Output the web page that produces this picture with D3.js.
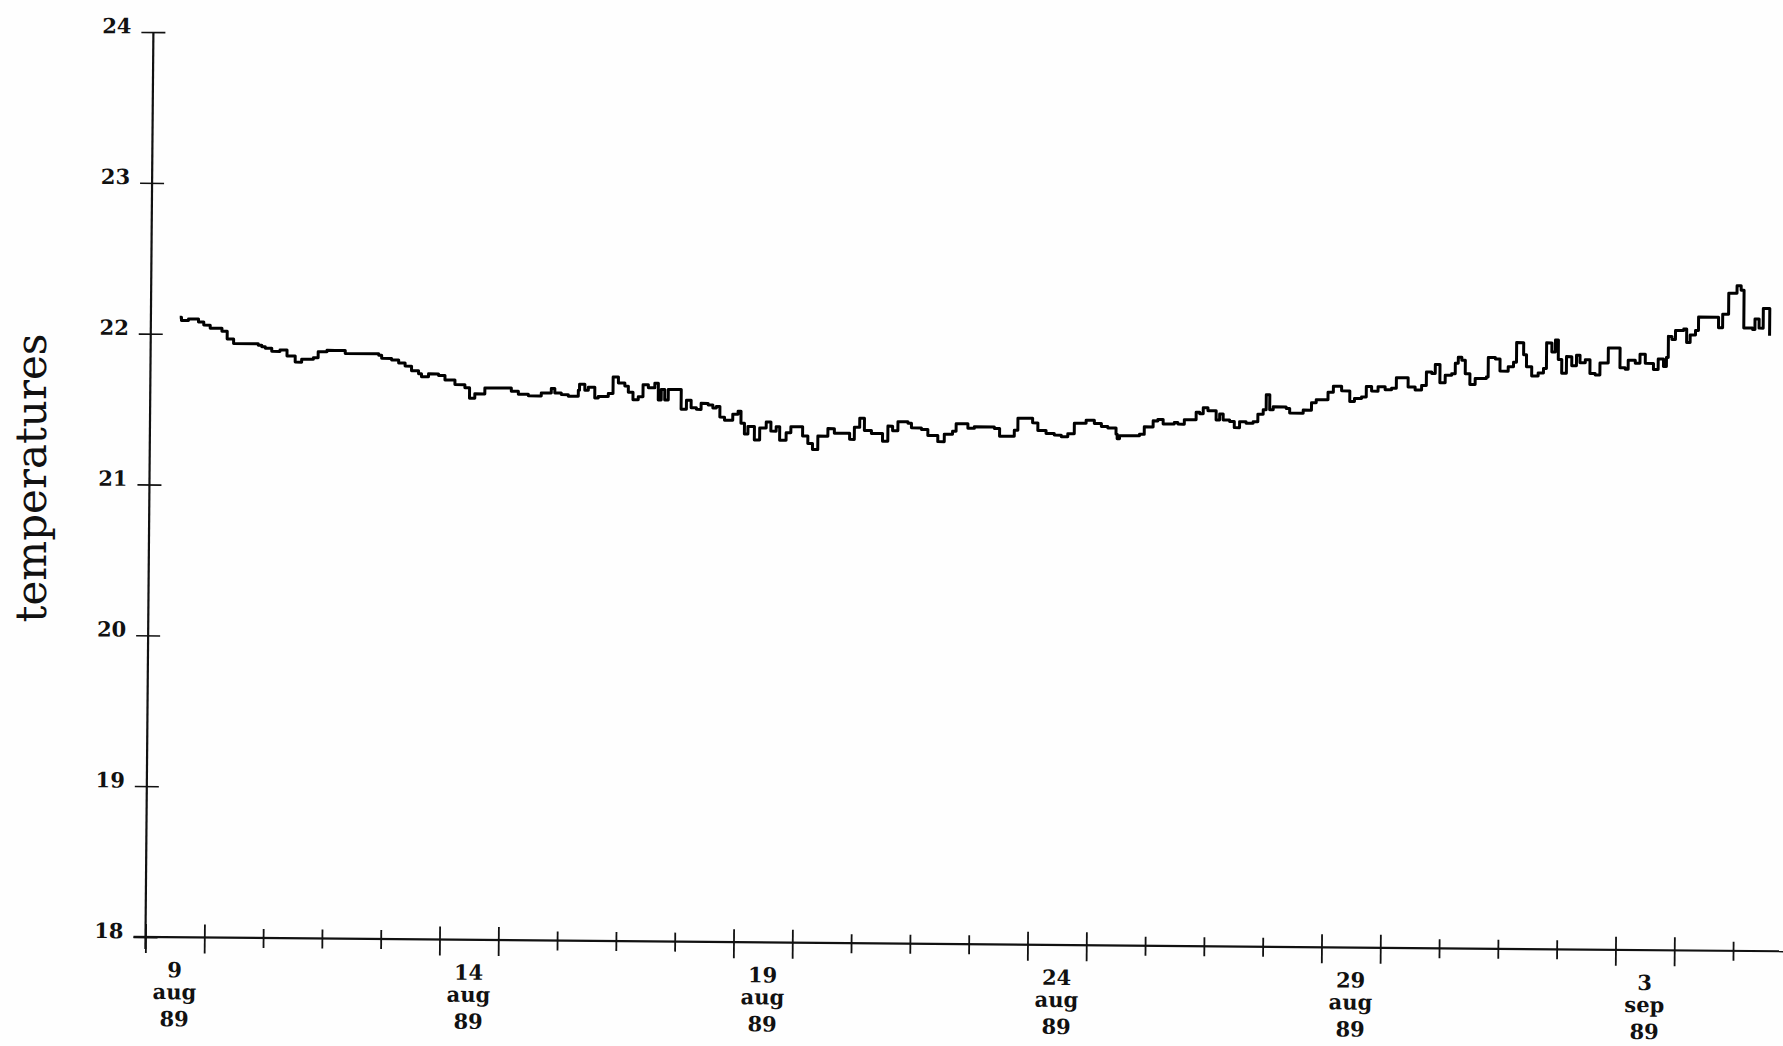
<!DOCTYPE html>
<html>
<head>
<meta charset="utf-8">
<script src="https://cdn.jsdelivr.net/npm/d3@7"></script>
<style>
  html, body { margin: 0; padding: 0; background: #fefefe; }
  svg { display: block; }
  text { font-family: "DejaVu Serif", "Liberation Serif", serif; fill: #111; }
</style>
</head>
<body>
<svg id="chart" width="1783" height="1046"></svg>
<script>
// ---- data: fractional days since 9 Aug 1989 00:00, and temperature readings ----
const days = [
  0.49, 0.52, 0.64, 0.81, 0.90, 1.01, 1.21, 1.30, 1.41, 1.83, 1.89, 1.95, 2.06, 2.20, 2.32, 2.46, 2.57, 2.77, 2.85, 3.00,
  3.14, 3.31, 3.88, 3.93, 4.10, 4.22, 4.33, 4.44, 4.56, 4.61, 4.73, 4.90, 5.01, 5.18, 5.35, 5.43, 5.52, 5.69, 5.92, 6.14,
  6.26, 6.43, 6.62, 6.65, 6.82, 6.88, 6.99, 7.11, 7.28, 7.30, 7.39, 7.45, 7.56, 7.62, 7.79, 7.87, 7.96, 8.07, 8.13, 8.21,
  8.30, 8.38, 8.47, 8.58, 8.64, 8.69, 8.75, 8.81, 8.95, 9.03, 9.12, 9.20, 9.29, 9.37, 9.49, 9.57, 9.63, 9.69, 9.77, 9.91,
  10.00, 10.05, 10.11, 10.17, 10.28, 10.37, 10.48, 10.56, 10.65, 10.71, 10.82, 10.90, 11.02, 11.10, 11.19, 11.27, 11.36, 11.53, 11.64, 11.76,
  11.90, 11.98, 12.07, 12.15, 12.27, 12.38, 12.46, 12.55, 12.63, 12.72, 12.89, 12.95, 13.12, 13.23, 13.40, 13.51, 13.65, 13.71, 13.85, 13.91,
  14.02, 14.36, 14.45, 14.62, 14.70, 14.76, 14.87, 15.01, 15.10, 15.24, 15.38, 15.50, 15.61, 15.72, 15.92, 16.06, 16.18, 16.29, 16.43, 16.45,
  16.49, 16.83, 16.91, 17.06, 17.14, 17.23, 17.42, 17.48, 17.57, 17.59, 17.74, 17.79, 17.85, 17.91, 17.99, 18.08, 18.13, 18.19, 18.25, 18.36,
  18.44, 18.53, 18.64, 18.76, 18.84, 18.93, 18.98, 19.04, 19.10, 19.32, 19.38, 19.61, 19.75, 19.83, 19.95, 20.03, 20.12, 20.26, 20.40, 20.48,
  20.60, 20.68, 20.77, 20.88, 21.00, 21.11, 21.19, 21.34, 21.39, 21.51, 21.62, 21.70, 21.79, 21.85, 21.93, 22.02, 22.13, 22.19, 22.24, 22.30,
  22.36, 22.44, 22.53, 22.72, 22.75, 22.87, 22.95, 23.09, 23.18, 23.23, 23.35, 23.40, 23.49, 23.60, 23.69, 23.74, 23.83, 23.89, 23.94, 24.00,
  24.08, 24.17, 24.25, 24.31, 24.40, 24.48, 24.57, 24.65, 24.79, 24.94, 24.99, 25.08, 25.13, 25.25, 25.33, 25.42, 25.56, 25.64, 25.73, 25.78,
  25.81, 25.87, 25.93, 26.07, 26.12, 26.18, 26.27, 26.32, 26.63, 26.66, 26.73, 26.83, 26.97, 27.04, 27.09, 27.24, 27.28, 27.35, 27.42, 27.50,
  27.53
];
const temps = [
  22.11, 22.09, 22.10, 22.08, 22.06, 22.04, 22.02, 21.97, 21.94, 21.93, 21.92, 21.91, 21.89, 21.90, 21.86, 21.82, 21.84, 21.85, 21.89, 21.90,
  21.90, 21.88, 21.87, 21.85, 21.84, 21.82, 21.80, 21.77, 21.75, 21.73, 21.75, 21.74, 21.71, 21.68, 21.66, 21.59, 21.62, 21.66, 21.66, 21.64,
  21.62, 21.61, 21.61, 21.63, 21.66, 21.63, 21.62, 21.61, 21.65, 21.69, 21.65, 21.67, 21.60, 21.61, 21.63, 21.74, 21.70, 21.68, 21.64, 21.59,
  21.61, 21.69, 21.67, 21.70, 21.59, 21.66, 21.59, 21.66, 21.66, 21.53, 21.59, 21.54, 21.53, 21.57, 21.56, 21.54, 21.55, 21.48, 21.46, 21.50,
  21.52, 21.44, 21.37, 21.42, 21.33, 21.41, 21.45, 21.39, 21.42, 21.33, 21.38, 21.42, 21.42, 21.36, 21.31, 21.27, 21.36, 21.41, 21.38, 21.38,
  21.34, 21.42, 21.48, 21.40, 21.38, 21.38, 21.33, 21.43, 21.40, 21.46, 21.45, 21.42, 21.41, 21.37, 21.33, 21.38, 21.40, 21.45, 21.45, 21.42,
  21.43, 21.42, 21.37, 21.37, 21.41, 21.49, 21.49, 21.46, 21.41, 21.39, 21.38, 21.37, 21.39, 21.46, 21.48, 21.46, 21.44, 21.43, 21.39, 21.36,
  21.38, 21.39, 21.44, 21.48, 21.49, 21.46, 21.47, 21.46, 21.46, 21.49, 21.49, 21.54, 21.53, 21.57, 21.55, 21.55, 21.49, 21.53, 21.49, 21.48,
  21.44, 21.48, 21.47, 21.48, 21.53, 21.56, 21.66, 21.56, 21.58, 21.57, 21.54, 21.56, 21.61, 21.63, 21.63, 21.68, 21.72, 21.69, 21.62, 21.64,
  21.65, 21.72, 21.69, 21.72, 21.70, 21.71, 21.78, 21.78, 21.72, 21.70, 21.73, 21.82, 21.81, 21.87, 21.75, 21.80, 21.81, 21.88, 21.92, 21.90,
  21.81, 21.74, 21.78, 21.79, 21.92, 21.91, 21.83, 21.86, 21.89, 22.02, 21.94, 21.86, 21.80, 21.82, 21.85, 22.02, 21.96, 22.04, 21.91, 21.82,
  21.93, 21.87, 21.94, 21.89, 21.91, 21.82, 21.81, 21.89, 21.99, 21.99, 21.86, 21.85, 21.91, 21.89, 21.95, 21.89, 21.85, 21.92, 21.87, 21.93,
  22.07, 22.05, 22.11, 22.12, 22.03, 22.08, 22.11, 22.20, 22.20, 22.13, 22.22, 22.36, 22.41, 22.38, 22.13, 22.12, 22.19, 22.13, 22.26, 22.26,
  22.08
];
const yTicks = [18, 19, 20, 21, 22, 23, 24];
const labelDates = ["1989-08-09", "1989-08-14", "1989-08-19", "1989-08-24", "1989-08-29", "1989-09-03"];
const labelDay = ["9", "14", "19", "24", "29", "3"];
const labelMonth = ["aug", "aug", "aug", "aug", "aug", "sep"];
const labelYear = ["89", "89", "89", "89", "89", "89"];
const yTitle = "temperatures";

// ---- drawing ----
const DAY = 864e5;
const t0 = Date.UTC(1989, 7, 9);
const toDate = d => new Date(t0 + d * DAY);
const parse = d3.utcParse("%Y-%m-%d");

const svg = d3.select("#chart");
const x0 = 145.5, yBase = 937, pxPerDay = 58.8;
const x = d3.scaleUtc().domain([toDate(0), toDate(28)]).range([x0, x0 + 28 * pxPerDay]);
const y = d3.scaleLinear().domain([18, 24]).range([yBase, 32]);

// the scanned original is turned slightly clockwise
const g = svg.append("g").attr("transform", `rotate(0.5, ${x0}, ${yBase})`);

// y axis
const yAxis = g.append("g").attr("transform", `translate(${x0},0)`)
  .call(d3.axisLeft(y).tickValues(yTicks).tickFormat(d3.format("d")).tickSizeOuter(0));
yAxis.select(".domain").remove();
yAxis.selectAll(".tick line").attr("x1", -12).attr("x2", 12).attr("stroke", "#111").attr("stroke-width", 1.6);
yAxis.selectAll(".tick text").attr("x", -22).attr("dy", "0.05em")
  .style("font-family", "'DejaVu Serif', serif").style("font-weight", "bold").style("font-size", "21px")
  .attr("fill", "#111");
g.append("line").attr("x1", x0).attr("x2", x0).attr("y1", y(24)).attr("y2", yBase + 12)
  .attr("stroke", "#111").attr("stroke-width", 2.2);

// x axis
const labeled = new Set();
labelDates.forEach(s => { const t = parse(s).getTime(); labeled.add(t); labeled.add(t + DAY); });
const xAxis = g.append("g").attr("transform", `translate(0,${yBase})`)
  .call(d3.axisBottom(x).ticks(d3.utcDay.every(1)).tickFormat("").tickSizeOuter(0));
xAxis.select(".domain").remove();
xAxis.selectAll(".tick line")
  .attr("y1", d => labeled.has(d.getTime()) ? -13 : -9)
  .attr("y2", d => labeled.has(d.getTime()) ? 16 : 10)
  .attr("stroke", "#111").attr("stroke-width", 1.8);
xAxis.selectAll(".tick").filter(d => d.getTime() >= toDate(27.9).getTime()).remove();
g.append("line").attr("x1", x0 - 12).attr("x2", 1800).attr("y1", yBase).attr("y2", yBase)
  .attr("stroke", "#111").attr("stroke-width", 2.2);

// x tick labels, centred on the labelled day
const cx = s => x(new Date(parse(s).getTime() + DAY / 2));
const lab = g.append("g").selectAll("text").data(labelDates).join("text")
  .attr("x", cx).attr("text-anchor", "middle")
  .style("font-weight", "bold").style("font-size", "21px");
lab.append("tspan").attr("x", cx).attr("y", yBase + 40).text((s, i) => labelDay[i]);
lab.append("tspan").attr("x", cx).attr("y", yBase + 62).text((s, i) => labelMonth[i]);
lab.append("tspan").attr("x", cx).attr("y", yBase + 89).text((s, i) => labelYear[i]);

// series
const series = days.map((d, i) => ({ t: toDate(d), v: temps[i] }));
g.append("path").datum(series)
  .attr("fill", "none").attr("stroke", "#000").attr("stroke-width", 3).attr("stroke-linejoin", "round")
  .attr("d", d3.line().x(p => x(p.t)).y(p => y(p.v)).curve(d3.curveStepAfter));

// y title
svg.append("text").attr("transform", "translate(46,478) rotate(-90)")
  .attr("text-anchor", "middle").style("font-size", "42px").text(yTitle);
</script>
</body>
</html>
